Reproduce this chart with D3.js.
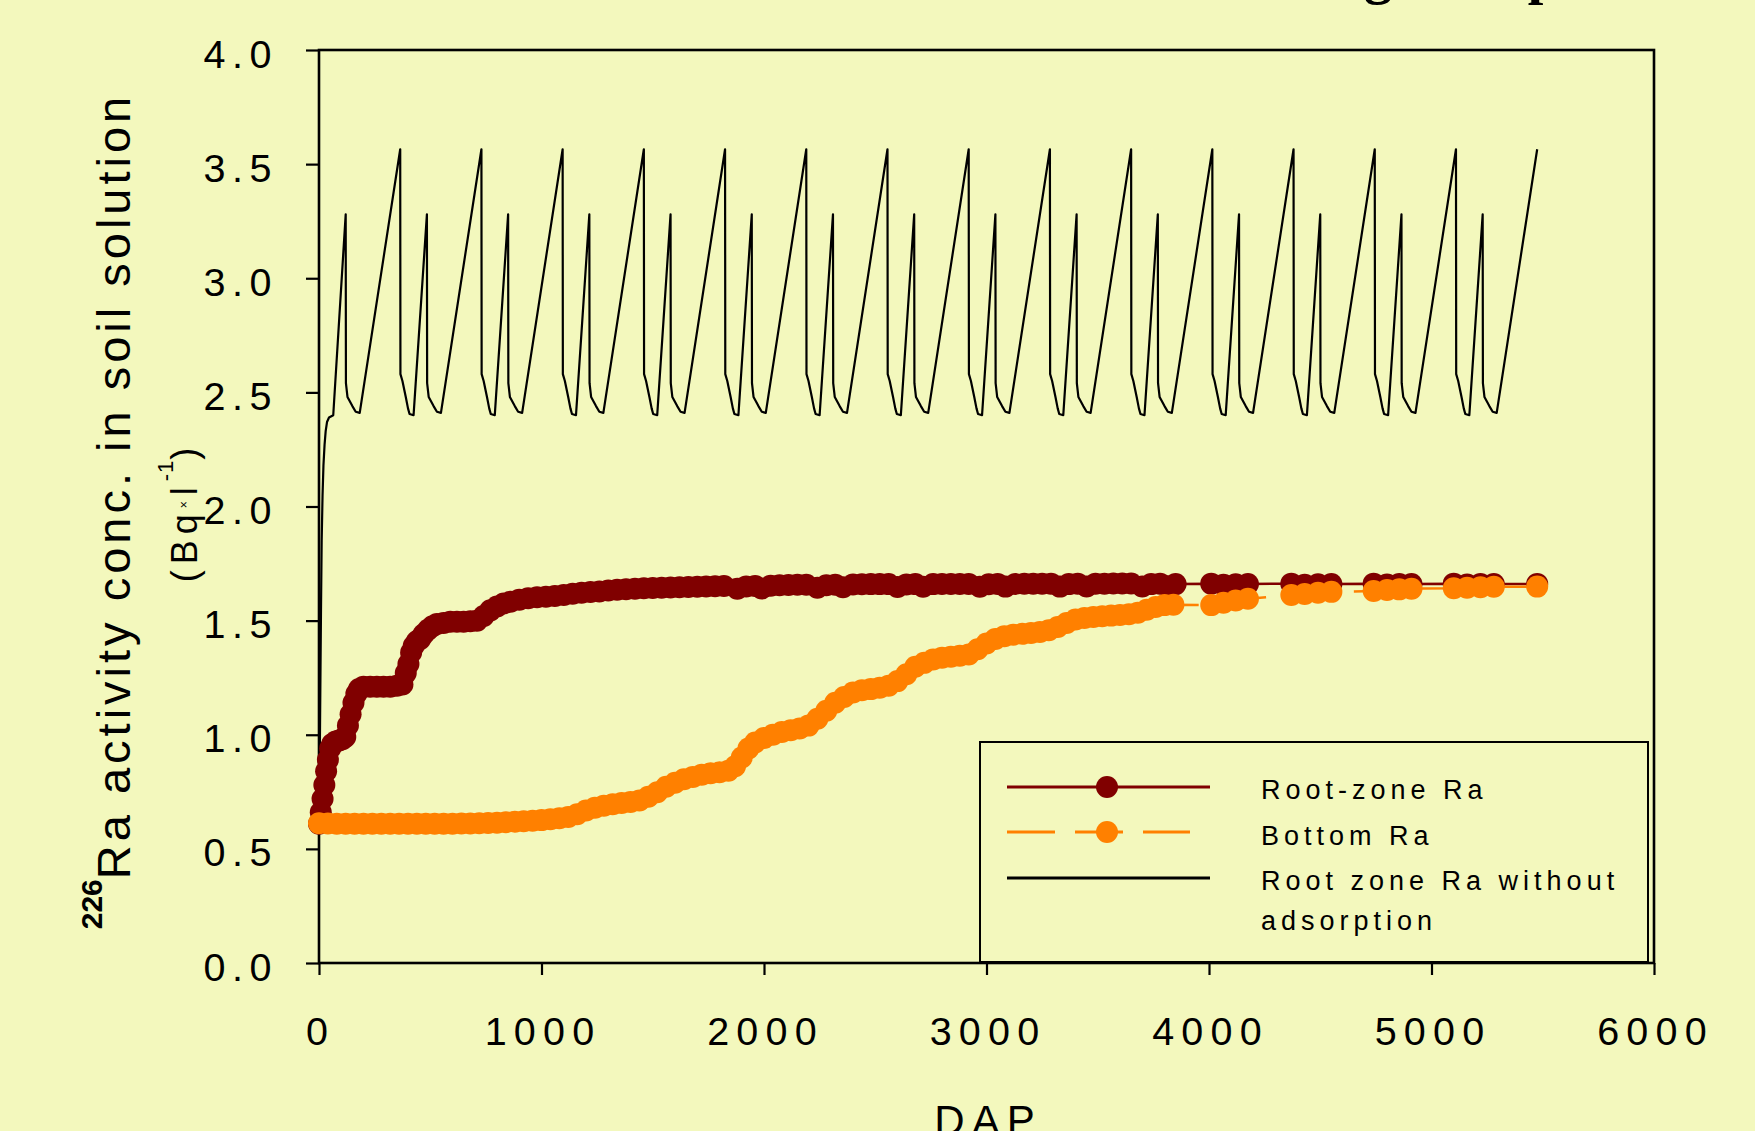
<!DOCTYPE html>
<html>
<head>
<meta charset="utf-8">
<script src="https://cdn.jsdelivr.net/npm/d3@7"></script>
<style>
  body { margin: 0; background: #f3f8bd; }
  svg { display: block; font-family: "Liberation Sans", Arial, sans-serif; }
</style>
</head>
<body>
<script>
// ---- data ----
var xTicks = [0, 1000, 2000, 3000, 4000, 5000, 6000];
var yTicks = [0, 0.5, 1, 1.5, 2, 2.5, 3, 3.5, 4];

var seriesNames = ['Root-zone Ra', 'Bottom Ra', 'Root zone Ra without', 'adsorption'];

// Root-zone Ra [DAP, Bq/l]
var rootZone = [
  [0,0.61],[8,0.66],[16,0.72],[24,0.78],[32,0.84],[40,0.89],[50,0.94],[60,0.96],[75,0.97],[90,0.975],
  [105,0.98],[118,0.99],[130,1.04],[142,1.09],[155,1.14],[168,1.18],[180,1.20],[200,1.21],[230,1.21],
  [260,1.21],[290,1.21],[320,1.21],[350,1.215],[375,1.22],[390,1.27],[402,1.31],[414,1.36],[426,1.39],
  [440,1.41],[455,1.42],[470,1.44],[490,1.46],[510,1.475],[530,1.485],[560,1.49],[590,1.495],[620,1.495],
  [650,1.495],[680,1.497],[710,1.50],[740,1.52],[770,1.545],[800,1.562],[830,1.575],[860,1.583],
  [900,1.592],[940,1.598],[980,1.602],[1020,1.605],[1060,1.608],[1100,1.612],[1140,1.618],[1180,1.622],
  [1220,1.625],[1260,1.628],[1300,1.632],[1340,1.635],[1380,1.638],[1420,1.640],[1460,1.642],
  [1500,1.643],[1540,1.644],[1580,1.645],[1620,1.646],[1660,1.647],[1700,1.648],[1740,1.650],
  [1780,1.651],[1820,1.652],[1880,1.640],[1920,1.650],[1960,1.652],[1990,1.641],[2030,1.653],
  [2070,1.655],[2110,1.656],[2150,1.657],[2190,1.657],[2240,1.644],[2280,1.655],[2320,1.657],
  [2355,1.646],[2400,1.658],[2440,1.659],[2480,1.660],[2520,1.660],[2560,1.660],[2600,1.647],
  [2640,1.658],[2680,1.660],[2715,1.648],[2760,1.660],[2800,1.661],[2840,1.661],[2880,1.661],
  [2920,1.661],[2970,1.648],[3010,1.659],[3050,1.661],[3085,1.649],[3130,1.661],[3170,1.662],
  [3210,1.662],[3250,1.662],[3290,1.662],[3330,1.649],[3370,1.660],[3410,1.662],[3450,1.650],
  [3490,1.662],[3530,1.662],[3570,1.663],[3610,1.663],[3650,1.663],[3700,1.650],[3740,1.660],
  [3780,1.662],[3815,1.651],[3850,1.660],
  [4010,1.662],[4065,1.657],[4120,1.659],[4175,1.660],
  [4370,1.662],[4430,1.657],[4490,1.659],[4550,1.660],
  [4740,1.662],[4800,1.658],[4855,1.660],[4910,1.660],
  [5100,1.662],[5160,1.658],[5220,1.660],[5280,1.660],
  [5475,1.661]
];

// Bottom Ra [DAP, Bq/l]
var bottom = [
  [0,0.612],[40,0.611],[80,0.610],[120,0.610],[160,0.610],[200,0.610],[240,0.610],[280,0.610],
  [320,0.610],[360,0.610],[400,0.610],[440,0.610],[480,0.610],[520,0.610],[560,0.610],[600,0.610],
  [640,0.611],[680,0.611],[720,0.612],[760,0.613],[800,0.615],[840,0.617],[880,0.619],[920,0.621],
  [960,0.623],[1000,0.626],[1040,0.630],[1080,0.634],[1120,0.640],[1160,0.652],[1200,0.668],
  [1240,0.680],[1280,0.689],[1320,0.696],[1360,0.701],[1400,0.705],[1440,0.712],[1480,0.728],
  [1520,0.748],[1560,0.772],[1600,0.790],[1640,0.805],[1680,0.815],[1720,0.825],[1760,0.831],
  [1800,0.836],[1840,0.842],[1870,0.862],[1900,0.900],[1930,0.940],[1960,0.966],[2000,0.986],
  [2040,1.000],[2080,1.012],[2120,1.020],[2160,1.027],[2200,1.040],[2240,1.070],[2280,1.105],
  [2320,1.140],[2360,1.165],[2400,1.185],[2440,1.195],[2480,1.200],[2520,1.206],[2560,1.215],
  [2600,1.235],[2640,1.265],[2680,1.298],[2720,1.315],[2760,1.330],[2800,1.337],[2840,1.342],
  [2880,1.346],[2920,1.352],[2960,1.375],[3000,1.400],[3040,1.420],[3080,1.432],[3120,1.438],
  [3160,1.442],[3200,1.446],[3240,1.450],[3280,1.458],[3320,1.472],[3360,1.490],[3400,1.505],
  [3440,1.512],[3480,1.516],[3520,1.519],[3560,1.522],[3600,1.525],[3640,1.528],[3680,1.535],
  [3720,1.548],[3760,1.560],[3800,1.568],[3840,1.570],
  [4010,1.568],[4065,1.578],[4120,1.588],[4175,1.596],
  [4370,1.612],[4430,1.617],[4490,1.622],[4550,1.626],
  [4740,1.630],[4800,1.634],[4855,1.637],[4910,1.640],
  [5100,1.642],[5160,1.644],[5220,1.646],[5280,1.648],
  [5475,1.649]
];

// Root zone Ra without adsorption [DAP, Bq/l]
var noAdsorption = [
  [0,0.61],[3,0.85],[6,1.2],[9,1.55],[12,1.85],[16,2.05],[20,2.18],[25,2.27],[30,2.33],[36,2.37],
  [45,2.39],[64,2.40],[120,3.28],[121,2.54],[128,2.48],[150,2.44],[165,2.415],[183,2.41],
  [365,3.565],[366,2.58],[375,2.55],[390,2.48],[400,2.43],[407,2.405],[425,2.40],[485,3.28],[486,2.54],[493,2.48],[515,2.44],[530,2.415],[548,2.41],
  [730,3.565],[731,2.58],[740,2.55],[755,2.48],[765,2.43],[772,2.405],[790,2.40],[850,3.28],[851,2.54],[858,2.48],[880,2.44],[895,2.415],[913,2.41],
  [1095,3.565],[1096,2.58],[1105,2.55],[1120,2.48],[1130,2.43],[1137,2.405],[1155,2.40],[1215,3.28],[1216,2.54],[1223,2.48],[1245,2.44],[1260,2.415],[1278,2.41],
  [1460,3.565],[1461,2.58],[1470,2.55],[1485,2.48],[1495,2.43],[1502,2.405],[1520,2.40],[1580,3.28],[1581,2.54],[1588,2.48],[1610,2.44],[1625,2.415],[1643,2.41],
  [1825,3.565],[1826,2.58],[1835,2.55],[1850,2.48],[1860,2.43],[1867,2.405],[1885,2.40],[1945,3.28],[1946,2.54],[1953,2.48],[1975,2.44],[1990,2.415],[2008,2.41],
  [2190,3.565],[2191,2.58],[2200,2.55],[2215,2.48],[2225,2.43],[2232,2.405],[2250,2.40],[2310,3.28],[2311,2.54],[2318,2.48],[2340,2.44],[2355,2.415],[2373,2.41],
  [2555,3.565],[2556,2.58],[2565,2.55],[2580,2.48],[2590,2.43],[2597,2.405],[2615,2.40],[2675,3.28],[2676,2.54],[2683,2.48],[2705,2.44],[2720,2.415],[2738,2.41],
  [2920,3.565],[2921,2.58],[2930,2.55],[2945,2.48],[2955,2.43],[2962,2.405],[2980,2.40],[3040,3.28],[3041,2.54],[3048,2.48],[3070,2.44],[3085,2.415],[3103,2.41],
  [3285,3.565],[3286,2.58],[3295,2.55],[3310,2.48],[3320,2.43],[3327,2.405],[3345,2.40],[3405,3.28],[3406,2.54],[3413,2.48],[3435,2.44],[3450,2.415],[3468,2.41],
  [3650,3.565],[3651,2.58],[3660,2.55],[3675,2.48],[3685,2.43],[3692,2.405],[3710,2.40],[3770,3.28],[3771,2.54],[3778,2.48],[3800,2.44],[3815,2.415],[3833,2.41],
  [4015,3.565],[4016,2.58],[4025,2.55],[4040,2.48],[4050,2.43],[4057,2.405],[4075,2.40],[4135,3.28],[4136,2.54],[4143,2.48],[4165,2.44],[4180,2.415],[4198,2.41],
  [4380,3.565],[4381,2.58],[4390,2.55],[4405,2.48],[4415,2.43],[4422,2.405],[4440,2.40],[4500,3.28],[4501,2.54],[4508,2.48],[4530,2.44],[4545,2.415],[4563,2.41],
  [4745,3.565],[4746,2.58],[4755,2.55],[4770,2.48],[4780,2.43],[4787,2.405],[4805,2.40],[4865,3.28],[4866,2.54],[4873,2.48],[4895,2.44],[4910,2.415],[4928,2.41],
  [5110,3.565],[5111,2.58],[5120,2.55],[5135,2.48],[5145,2.43],[5152,2.405],[5170,2.40],[5230,3.28],[5231,2.54],[5238,2.48],[5260,2.44],[5275,2.415],[5293,2.41],
  [5475,3.565]
];

var bg = '#f3f8bd';
var red = '#800000';
var orange = '#ff8000';
var font = '"Liberation Sans", Arial, sans-serif';

var width = 1755;
var height = 1131;

var svg = d3.select('body').append('svg')
  .attr('width', width)
  .attr('height', height);

svg.append('rect').attr('width', width).attr('height', height).attr('fill', bg);

var x = d3.scaleLinear().domain([0, 6000]).range([319, 1654]);
var y = d3.scaleLinear().domain([0, 4]).range([963, 50]);

// cut-off slide title at the very top
svg.append('text')
  .attr('x', 1392).attr('y', -7)
  .attr('text-anchor', 'end')
  .attr('font-family', '"Liberation Serif", "Times New Roman", serif')
  .attr('font-weight', 'bold').attr('font-size', 56)
  .text('Ra in soil solution during');
svg.append('text')
  .attr('x', 1424).attr('y', -7)
  .attr('font-family', '"Liberation Serif", "Times New Roman", serif')
  .attr('font-weight', 'bold').attr('font-size', 56)
  .text('Temperature');

// axes
var xAxis = svg.append('g')
  .attr('transform', 'translate(0,963)')
  .call(d3.axisBottom(x).tickValues(xTicks).tickSize(12).tickSizeOuter(0).tickFormat(d3.format('d')));
xAxis.select('.domain').remove();
xAxis.selectAll('line').attr('stroke', '#000').attr('stroke-width', 2.2);
xAxis.selectAll('text')
  .attr('y', 82).attr('dy', 0).attr('dx', 1)
  .attr('fill', '#000')
  .attr('font-family', font).attr('font-size', 39.5)
  .attr('letter-spacing', 7.2);

var yAxis = svg.append('g')
  .attr('transform', 'translate(319,0)')
  .call(d3.axisLeft(y).tickValues(yTicks).tickSize(13).tickSizeOuter(0).tickFormat(d3.format('.1f')));
yAxis.select('.domain').remove();
yAxis.selectAll('line').attr('stroke', '#000').attr('stroke-width', 2.2);
yAxis.selectAll('text')
  .attr('x', -41).attr('dy', '0.43em')
  .attr('fill', '#000')
  .attr('font-family', font).attr('font-size', 39.5)
  .attr('letter-spacing', 6.5);

// frame
svg.append('rect')
  .attr('x', x(0)).attr('y', y(4))
  .attr('width', x(6000) - x(0)).attr('height', y(0) - y(4))
  .attr('fill', 'none').attr('stroke', '#000').attr('stroke-width', 2.6);

// axis titles
svg.append('text')
  .attr('x', 988).attr('y', 1135)
  .attr('text-anchor', 'middle')
  .attr('font-family', font).attr('font-size', 42)
  .attr('letter-spacing', 7)
  .text('DAP');

var yt = svg.append('text')
  .attr('transform', 'translate(130,511) rotate(-90)')
  .attr('text-anchor', 'middle')
  .attr('font-family', font);
yt.append('tspan').attr('font-size', 30).attr('font-weight', 'bold').attr('dy', -28).text('226');
yt.append('tspan').attr('font-size', 47).attr('letter-spacing', 4).attr('dy', 28).text('Ra activity conc. in soil solution');

var yu = svg.append('text')
  .attr('transform', 'translate(197,512) rotate(-90)')
  .attr('text-anchor', 'middle')
  .attr('font-family', font).attr('font-size', 36)
  .attr('letter-spacing', 6);
yu.append('tspan').text('(Bq');
yu.append('tspan').attr('font-size', 12).attr('dy', -9).text('\u00d7');
yu.append('tspan').attr('dy', 9).text('l');
yu.append('tspan').attr('font-size', 22).attr('dy', -24).attr('letter-spacing', 1).text('-1');
yu.append('tspan').attr('dy', 24).text(')');

// series
var line = d3.line()
  .x(function(d) { return x(d[0]); })
  .y(function(d) { return y(d[1]); });

svg.append('path')
  .datum(noAdsorption)
  .attr('d', line)
  .attr('fill', 'none').attr('stroke', '#000').attr('stroke-width', 2.2)
  .attr('stroke-linejoin', 'round');

svg.append('path')
  .datum(rootZone)
  .attr('d', line)
  .attr('fill', 'none').attr('stroke', red).attr('stroke-width', 2.5);
svg.append('g').selectAll('circle')
  .data(rootZone)
  .enter().append('circle')
    .attr('cx', function(d) { return x(d[0]); })
    .attr('cy', function(d) { return y(d[1]); })
    .attr('r', 11)
    .attr('fill', red);

svg.append('path')
  .datum(bottom)
  .attr('d', line)
  .attr('fill', 'none').attr('stroke', orange).attr('stroke-width', 2.5)
  .attr('stroke-dasharray', '48,20');
svg.append('g').selectAll('circle')
  .data(bottom)
  .enter().append('circle')
    .attr('cx', function(d) { return x(d[0]); })
    .attr('cy', function(d) { return y(d[1]); })
    .attr('r', 11)
    .attr('fill', orange);

// legend
var lg = svg.append('g');
lg.append('rect')
  .attr('x', 980).attr('y', 742).attr('width', 668).attr('height', 220)
  .attr('fill', bg).attr('stroke', '#000').attr('stroke-width', 2);

lg.append('line').attr('x1', 1007).attr('x2', 1210).attr('y1', 787).attr('y2', 787)
  .attr('stroke', red).attr('stroke-width', 3);
lg.append('circle').attr('cx', 1107).attr('cy', 787).attr('r', 11).attr('fill', red);

lg.append('line').attr('x1', 1007).attr('x2', 1190).attr('y1', 832).attr('y2', 832)
  .attr('stroke', orange).attr('stroke-width', 3).attr('stroke-dasharray', '48,20');
lg.append('circle').attr('cx', 1107).attr('cy', 832).attr('r', 11).attr('fill', orange);

lg.append('line').attr('x1', 1007).attr('x2', 1210).attr('y1', 878).attr('y2', 878)
  .attr('stroke', '#000').attr('stroke-width', 3);

var legendY = [799, 845, 890, 930];
lg.selectAll('text.leg')
  .data(seriesNames)
  .enter().append('text')
    .attr('class', 'leg')
    .attr('x', 1261)
    .attr('y', function(d, i) { return legendY[i]; })
    .attr('font-family', font).attr('font-size', 27)
    .attr('letter-spacing', 5)
    .text(function(d) { return d; });
</script>
</body>
</html>
